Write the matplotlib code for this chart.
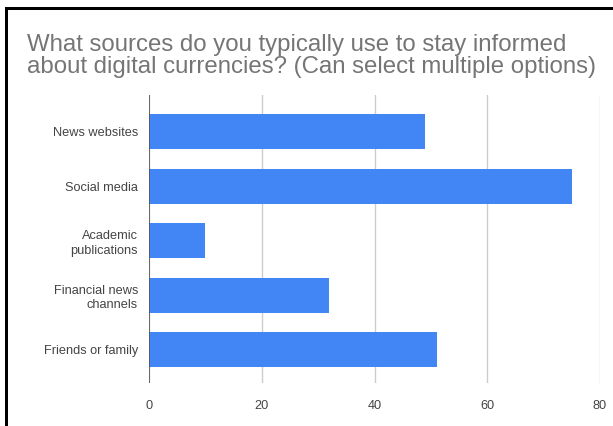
import matplotlib.pyplot as plt
from matplotlib.patches import Rectangle

plt.rcParams['font.family'] = ['Liberation Sans', 'DejaVu Sans']

sources = ['News websites', 'Social media', 'Academic\npublications',
           'Financial news\nchannels', 'Friends or family']
counts = [49, 75, 10, 32, 51]
xticks = [0, 20, 40, 60, 80]

W, H = 613, 426
fig = plt.figure(figsize=(W / 100, H / 100), dpi=100)

# plot area in pixel coords: x 149..600, y 95..383
ax = fig.add_axes([149 / W, 1 - 383 / H, (600 - 149) / W, (383 - 95) / H])

y = list(range(len(sources)))
ax.barh(y, counts, height=0.64, color='#4285F4', zorder=3)

ax.set_xlim(0, 80)
ax.set_ylim(len(sources) - 1 + 0.61, -0.67)
ax.set_xticks(xticks)
ax.set_yticks(y)
ax.set_yticklabels(sources, linespacing=1.3)
ax.tick_params(axis='both', length=0, labelsize=9.2, colors='#444444')
ax.tick_params(axis='x', pad=12)
ax.tick_params(axis='y', pad=8)
ax.grid(axis='x', color='#cccccc', linewidth=1, zorder=0)
for s in ax.spines.values():
    s.set_visible(False)
ax.axvline(0, color='#555555', linewidth=1.2, zorder=4)

fig.text(27 / W, 1 - 73 / H,
         'What sources do you typically use to stay informed\n'
         'about digital currencies? (Can select multiple options)',
         fontsize=17.3, color='#757575', ha='left', va='baseline',
         linespacing=1.0)

# frame lines along the left and top edges
fig.add_artist(Rectangle((5 / W, 0), 2.5 / W, 1 - 7 / H, transform=fig.transFigure,
                         color='black', linewidth=0))
fig.add_artist(Rectangle((5 / W, 1 - 9.5 / H), 1, 2.5 / H, transform=fig.transFigure,
                         color='black', linewidth=0))

fig.savefig('out.png', dpi=100)
